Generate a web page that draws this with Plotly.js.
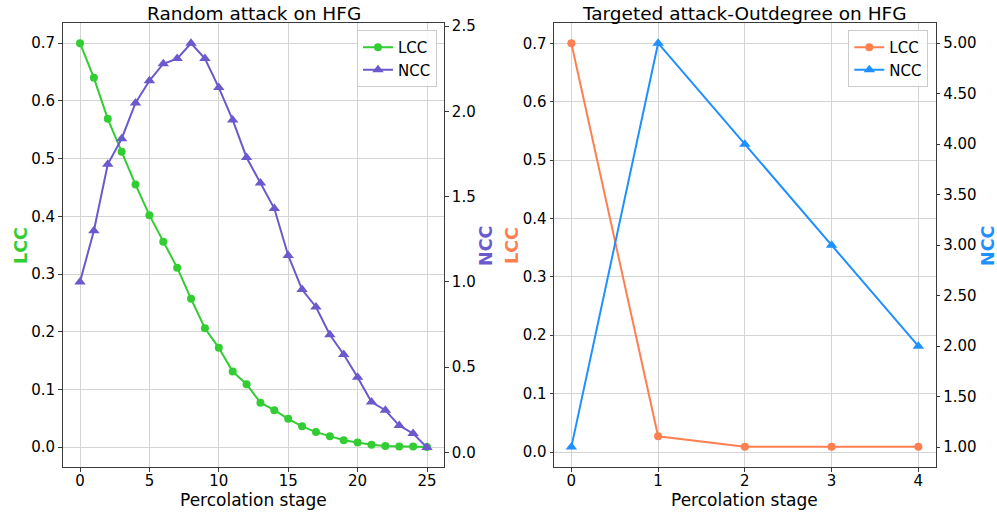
<!DOCTYPE html>
<html>
<head>
<meta charset="utf-8">
<script src="https://cdn.plot.ly/plotly-3.0.1.min.js"></script>
<style>html,body{margin:0;padding:0;background:#fff;}#chart{width:997px;height:512px;}</style>
</head>
<body>
<div id="chart"></div>
<script>
// Random attack on HFG
const randomStage = [0,1,2,3,4,5,6,7,8,9,10,11,12,13,14,15,16,17,18,19,20,21,22,23,24,25];
const randomLCC = [0.700,0.640,0.569,0.512,0.455,0.402,0.356,0.311,0.257,0.206,0.172,0.131,0.109,0.077,0.064,0.049,0.036,0.026,0.019,0.012,0.008,0.004,0.002,0.001,0.001,0.000];
const randomNCC = [1.00,1.30,1.69,1.84,2.05,2.18,2.28,2.31,2.40,2.31,2.14,1.95,1.73,1.58,1.43,1.155,0.955,0.853,0.69,0.574,0.44,0.295,0.247,0.157,0.11,0.028];

// Targeted attack-Outdegree on HFG
const targetStage = [0,1,2,3,4];
const targetLCC = [0.700,0.027,0.009,0.009,0.009];
const targetNCC = [1,5,4,3,2];

const randomTicks = [0,5,10,15,20,25];
const targetTicks = [0,1,2,3,4];

const titles = ["Random attack on HFG", "Targeted attack-Outdegree on HFG"];
const xLabel = "Percolation stage";
const seriesNames = ["LCC", "NCC"];
const colors = {randLCC:'#32CD32', randNCC:'#6A5ACD', tgtLCC:'#FF7F50', tgtNCC:'#1E90FF'};

const FONT = 'DejaVu Sans, sans-serif';
const tickFont = {family: FONT, size: 15, color: '#000'};
const gridC = '#d4d4d4';
const lineC = '#3a3a3a';

const traces = [
  {x: randomStage, y: randomLCC, name: seriesNames[0], xaxis:'x', yaxis:'y', mode:'lines+markers',
   line:{color:colors.randLCC, width:2}, marker:{symbol:'circle', size:8, color:colors.randLCC}, legend:'legend'},
  {x: randomStage, y: randomNCC, name: seriesNames[1], xaxis:'x', yaxis:'y2', mode:'lines+markers',
   line:{color:colors.randNCC, width:2}, marker:{symbol:'triangle-up', size:10, color:colors.randNCC}, legend:'legend'},
  {x: targetStage, y: targetLCC, name: seriesNames[0], xaxis:'x2', yaxis:'y3', mode:'lines+markers',
   line:{color:colors.tgtLCC, width:2}, marker:{symbol:'circle', size:8, color:colors.tgtLCC}, legend:'legend2'},
  {x: targetStage, y: targetNCC, name: seriesNames[1], xaxis:'x2', yaxis:'y4', mode:'lines+markers',
   line:{color:colors.tgtNCC, width:2}, marker:{symbol:'triangle-up', size:10, color:colors.tgtNCC}, legend:'legend2'}
];

const yDom = [1-467.3/512, 1-23/512];
const commonAxis = {showline:true, linecolor:lineC, linewidth:1, ticks:'outside', ticklen:3.5, tickcolor:lineC,
  tickfont:tickFont, zeroline:false};

const layout = {
  width:997, height:512, margin:{l:0,r:0,t:0,b:0}, paper_bgcolor:'#fff', plot_bgcolor:'#fff',
  font:{family:FONT, color:'#000'},
  xaxis: Object.assign({}, commonAxis, {domain:[62.65/997, 444.35/997], anchor:'y', range:[-1.25,26.25],
    tickvals:randomTicks, ticks:'', showgrid:true, gridcolor:gridC, gridwidth:1, mirror:true,
    minor:{tickmode:'array', tickvals:randomTicks, ticks:'outside', ticklen:3.5, tickcolor:lineC, showgrid:false}}),
  yaxis: Object.assign({}, commonAxis, {domain:yDom, anchor:'x', range:[-0.035,0.735], dtick:0.1, tick0:0,
    tickformat:'.1f', showgrid:true, gridcolor:gridC, gridwidth:1}),
  yaxis2: Object.assign({}, commonAxis, {overlaying:'y', side:'right', anchor:'x', range:[-0.088,2.519],
    dtick:0.5, tick0:0, tickformat:'.1f', showgrid:false}),
  xaxis2: Object.assign({}, commonAxis, {domain:[554/997, 935.7/997], anchor:'y3', range:[-0.2,4.2],
    tickvals:targetTicks, ticks:'', showgrid:true, gridcolor:gridC, gridwidth:1, mirror:true,
    minor:{tickmode:'array', tickvals:targetTicks, ticks:'outside', ticklen:3.5, tickcolor:lineC, showgrid:false}}),
  yaxis3: Object.assign({}, commonAxis, {domain:yDom, anchor:'x2', range:[-0.0262,0.7348], dtick:0.1, tick0:0,
    tickformat:'.1f', showgrid:true, gridcolor:gridC, gridwidth:1}),
  yaxis4: Object.assign({}, commonAxis, {overlaying:'y3', side:'right', anchor:'x2', range:[0.8,5.2],
    dtick:0.5, tick0:0, tickformat:'.2f', showgrid:false}),
  legend: {x:437/997, xanchor:'right', y:1-30/512, yanchor:'top', bgcolor:'rgba(255,255,255,0.85)',
    bordercolor:'#cccccc', borderwidth:1, font:{family:FONT, size:15, color:'#000'}, tracegroupgap:0},
  legend2: {x:928.3/997, xanchor:'right', y:1-30/512, yanchor:'top', bgcolor:'rgba(255,255,255,0.85)',
    bordercolor:'#cccccc', borderwidth:1, font:{family:FONT, size:15, color:'#000'}, tracegroupgap:0},
  showlegend:true,
  annotations: [
    {text:titles[0], xref:'paper', yref:'paper', x:253.5/997, y:1-13/512, xanchor:'center', yanchor:'middle',
     showarrow:false, font:{family:FONT, size:18.5, color:'#000'}},
    {text:titles[1], xref:'paper', yref:'paper', x:744.9/997, y:1-13/512, xanchor:'center', yanchor:'middle',
     showarrow:false, font:{family:FONT, size:18.5, color:'#000'}},
    {text:xLabel, xref:'paper', yref:'paper', x:253.5/997, y:1-499.5/512, xanchor:'center', yanchor:'middle',
     showarrow:false, font:{family:FONT, size:17, color:'#000'}},
    {text:xLabel, xref:'paper', yref:'paper', x:744.9/997, y:1-499.5/512, xanchor:'center', yanchor:'middle',
     showarrow:false, font:{family:FONT, size:17, color:'#000'}},
    {text:'<b>LCC</b>', xref:'paper', yref:'paper', x:21/997, y:1-246/512, xanchor:'center', yanchor:'middle',
     textangle:-90, showarrow:false, font:{family:FONT, size:17.5, color:colors.randLCC}},
    {text:'<b>NCC</b>', xref:'paper', yref:'paper', x:486/997, y:1-246/512, xanchor:'center', yanchor:'middle',
     textangle:-90, showarrow:false, font:{family:FONT, size:17.5, color:colors.randNCC}},
    {text:'<b>LCC</b>', xref:'paper', yref:'paper', x:512/997, y:1-246/512, xanchor:'center', yanchor:'middle',
     textangle:-90, showarrow:false, font:{family:FONT, size:17.5, color:colors.tgtLCC}},
    {text:'<b>NCC</b>', xref:'paper', yref:'paper', x:988/997, y:1-246/512, xanchor:'center', yanchor:'middle',
     textangle:-90, showarrow:false, font:{family:FONT, size:17.5, color:colors.tgtNCC}}
  ]
};

Plotly.newPlot('chart', traces, layout, {displayModeBar:false, staticPlot:true});
</script>
</body>
</html>
